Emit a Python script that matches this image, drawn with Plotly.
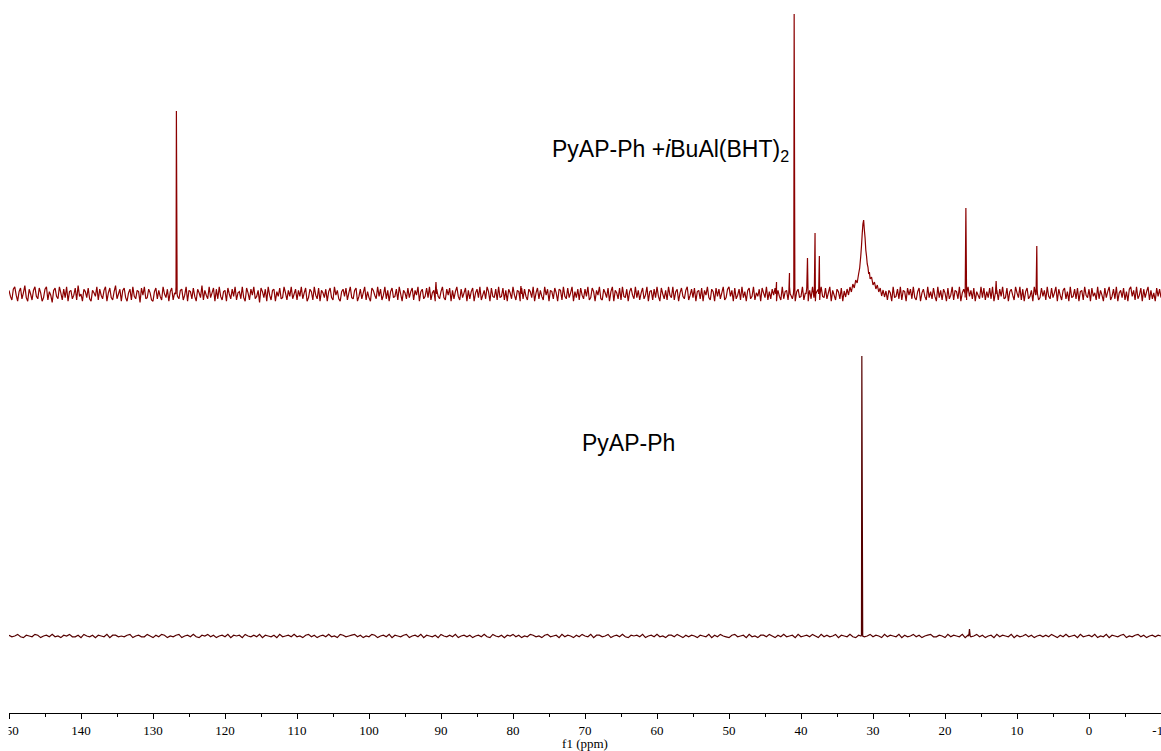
import plotly.graph_objects as go

# ---------------- data ----------------
# chemical shift grid (ppm) for the noise samples
top_start, top_step = 150.0, 0.2
bot_start, bot_step = 150.0, 0.4

# top spectrum: PyAP-Ph + iBuAl(BHT)2 -- baseline noise (intensity units)
top_noise = [
    3,-2,-5,4,6,-1,-6,2,5,-4,1,7,-3,-6,4,0,-5,3,6,-2,
    -4,5,1,-6,-3,4,6,-5,2,-1,-7,3,5,-2,-4,6,1,-5,4,-3,
    6,-6,2,3,-4,-1,5,-5,7,-2,0,-6,4,2,-3,5,-4,-6,3,1,
    -2,6,-5,4,-1,-4,3,6,-6,1,5,-3,-5,2,7,-4,0,4,-6,3,
    5,-3,-6,1,4,-5,6,-2,-4,3,2,-7,5,-1,6,-4,-3,4,1,-5,
    -6,2,5,-4,3,-2,-5,6,0,-3,4,-6,2,5,-5,1,6,-2,-4,3,
    4,-5,-1,6,-6,3,2,-4,5,-2,-6,4,1,-3,7,-5,3,-1,-4,6,
    -3,1,5,-6,4,-4,6,-2,-5,2,3,-6,5,0,-4,4,-2,6,-5,1,
    2,-4,6,-3,-6,5,1,-5,4,-1,6,-4,-2,3,-7,5,2,-3,4,-6,
    6,-1,-5,3,4,-6,2,-2,5,-4,-3,6,1,-5,3,-2,6,-4,0,4,
    -5,3,-2,6,-4,1,5,-6,-3,4,2,-5,6,-1,-4,5,-6,3,1,-3,
    4,-6,2,5,-3,-5,6,-1,3,-4,-6,2,4,-2,5,-5,1,6,-3,-4,
    3,5,-6,-2,4,-4,1,6,-5,2,-3,-6,5,3,-1,-4,6,-2,4,-5,
    -1,6,-4,3,-6,2,5,-3,-2,4,-5,6,0,-6,3,1,-4,5,-3,2,
    5,-5,3,-1,6,-6,2,4,-4,-2,5,-3,6,-5,1,3,-6,4,-2,-4,
    2,6,-3,-5,4,-1,5,-6,3,-4,2,6,-2,-5,4,-3,1,5,-6,3,
    -4,2,5,-6,1,4,-3,6,-5,-1,3,-4,6,2,-6,5,-2,-3,4,-5,
    6,-3,-2,5,-5,3,-6,4,1,-4,6,-1,-5,3,2,-6,5,-4,4,-2,
    -5,4,2,-3,6,-6,1,5,-4,3,-2,-5,6,-1,4,-6,3,2,-4,5,
    1,-6,4,3,-5,6,-2,-4,5,-3,1,6,-6,2,-3,4,-5,5,-1,-4,
    4,-2,6,-5,-3,5,2,-6,3,-1,6,-4,-5,4,1,-3,5,-6,2,6,
    -6,3,1,-4,5,-5,6,-2,-3,4,-6,2,5,-1,-4,6,-3,3,-5,1,
    5,-4,-1,6,-6,2,3,-5,4,-3,6,-2,-6,5,0,-4,3,-5,6,-1,
    -3,6,-5,2,4,-6,1,5,-2,-4,3,6,-5,-1,4,-3,5,-6,2,3,
    -4,5,-6,3,-1,6,-3,-5,4,2,-6,5,-2,4,-4,1,6,-5,-3,4,
    6,-2,3,-6,5,-4,-1,4,-5,6,-3,2,-6,3,5,-4,-2,6,-5,1,
    -2,4,-6,5,1,-3,6,-5,2,-4,4,-1,5,-6,3,-2,-5,6,-4,2,
    3,-5,6,-1,-4,5,-6,2,4,-3,-2,6,-5,1,5,-6,3,-4,6,-3,
    -6,2,4,-5,6,-2,-3,5,-4,1,6,-6,3,-1,-5,4,2,-4,5,-6,
    4,1,-5,6,-3,-4,5,-2,3,-6,6,-1,-4,5,-5,2,4,-3,-6,5,
    -1,-5,6,-4,3,2,-6,4,-2,5,-5,3,1,-6,6,-3,-2,4,-4,6,
    -5,3,2,-6,5,-1,4,-4,6,-3,-5,2,5,-6,1,4,-2,-5,6,-3,
    2,-4,5,-2,-6,6,-3,3,-5,4,1,-6,5,-4,-1,6,-5,3,2,-4,
    6,-6,1,4,-3,-5,6,-2,3,-4,5,-6,2,-1,-4,6,-3,5,-5,2,
    -3,5,-4,6,-6,1,3,-5,4,-2,6,-4,-3,5,-6,2,4,-1,-5,6,
    1,-3,6,-5,4,-6,2,5,-4,-2,3,-6,6,-1,4,-5,-3,5,-2,3,
    -5,6,-2,-4,5,-3,1,6,-6,4,-1,-5,3,5,-4,2,-6,6,-3,-2,
    4,-4,5,-6,2,3,-5,6,-1,-3,4,-6,5,-2,1,-5,6,-4,3,-1,
    -6,5,-3,2,6,-5,-2,4,-4,6,-6,1,3,-3,5,-5,2,-6,4,6,
    -2,3,-5,6,-4,-1,5,-6,4,-3,2,6,-5,3,-4,1,-6,5,-2,4,
    -3,
]
top_noise_gain = 1.2
top_peak_ppm = [126.75, 90.7, 78.9, 43.4, 41.6, 40.95, 39.1, 38.05, 37.45, 17.1, 12.9, 7.25]
top_peak_int = [183, 12, 8, 12, 21, 280, 36, 61, 38, 86, 13, 48]
top_peak_hw  = [0.1, 0.1, 0.1, 0.1, 0.1, 0.1, 0.2, 0.1, 0.1, 0.1, 0.1, 0.1]
# broad resonance near 31 ppm
hump_ppm = [34.0, 33.8, 33.6, 33.4, 33.2, 33.0, 32.8, 32.6, 32.4, 32.2, 32.0, 31.85,
            31.7, 31.6, 31.5, 31.4, 31.3, 31.2, 31.1, 31.0, 30.9, 30.8, 30.7, 30.6,
            30.5, 30.4, 30.2, 30.0, 29.8, 29.6, 29.4, 29.2, 29.0, 28.8, 28.6, 28.4, 28.2]
hump_int = [3, -3, 5, -1, 7, 2, 10, 6, 14, 11, 20, 26,
            38, 48, 60, 70, 74, 64, 56, 44, 38, 30, 27, 20,
            22, 15, 17, 9, 12, 5, 9, 2, 6, -2, 4, -3, 3]

# bottom spectrum: PyAP-Ph -- baseline noise
bot_noise = [
    1,-1,0,2,-1,-2,1,0,-1,2,1,-2,0,1,-1,2,-1,0,-2,1,
    0,2,-1,-1,1,-2,2,0,-1,1,-2,1,0,-1,2,-2,1,1,-1,0,
    -1,1,2,-2,0,1,-1,-1,2,0,-2,1,-1,2,1,-2,0,-1,1,2,
    -2,0,1,-1,2,-1,-2,1,0,2,-1,1,-2,0,1,-1,2,-2,1,0,
    1,-2,2,0,-1,1,-1,2,-2,1,0,-1,1,-2,2,-1,0,1,-1,2,
    -1,0,-2,1,2,-1,1,-2,0,1,-1,2,-1,0,-2,2,1,-1,0,1,
    2,-1,1,-2,0,-1,2,1,-2,0,1,-1,2,-2,1,0,-1,1,2,-2,
    0,1,-1,2,-2,1,0,-1,1,-2,2,0,-1,1,-1,2,-2,0,1,-1,
    1,-2,0,1,-1,2,-1,-2,2,0,-1,1,-2,1,0,2,-1,1,-2,0,
    -1,2,1,-1,0,-2,1,2,-1,0,1,-2,2,-1,1,0,-2,1,-1,2,
    0,-1,2,-2,1,1,-1,0,2,-2,0,1,-1,2,-1,-2,1,0,1,-1,
    2,-2,0,1,-1,2,-1,0,-2,1,1,-1,2,0,-2,1,-1,1,0,-2,
    1,0,-1,2,-2,1,-1,2,0,-1,-2,1,2,-1,0,1,-2,2,-1,0,
    -2,1,1,-1,2,0,-2,1,-1,2,-1,0,1,-2,2,-1,0,1,-1,2,
    0,-2,2,-1,1,-1,0,2,-2,1,0,-1,2,-1,-2,1,1,-1,0,2,
    -1,1,0,-2,2,-1,1,0,-1,2,-2,1,-1,0,2,-1,1,-2,0,1,
    2,-1,-1,1,0,-2,2,-1,1,0,-1,2,-2,1,-1,0,2,-1,1,-2,
    0,1,-2,2,-1,1,0,-1,2,-2,1,-1,0,2,-1,1,-2,0,1,-1,
    1,-1,2,0,-2,1,-1,2,-1,0,1,-2,2,-1,0,1,-1,2,-2,0,
    -1,2,-2,1,0,-1,1,2,-2,0,-1,1,2,-1,1,-2,0,1,-1,1,
    0,
]
bot_noise_gain = 0.8
bot_peak_ppm = [31.55, 16.6]
bot_peak_int = [280, 7]
bot_peak_hw  = [0.12, 0.1]

labels = ["PyAP-Ph +<i>i</i>BuAl(BHT)<sub>2</sub>", "PyAP-Ph"]
tick_vals = [150, 140, 130, 120, 110, 100, 90, 80, 70, 60, 50, 40, 30, 20, 10, 0, -10]

# vertical stacking offsets of the two spectra
top_offset = 419
bot_offset = 77


def build(start, step, noise, gain, pk_ppm, pk_int, pk_hw, hx=None, hy=None, hole=None):
    pts = []
    for i, v in enumerate(noise):
        x = start - step * i
        if hole and hole[1] <= x <= hole[0]:
            continue
        pts.append((x, v * gain))
    for p, h, w in zip(pk_ppm, pk_int, pk_hw):
        pts += [(p + w, 0), (p, h), (p - w, 0)]
    if hx:
        pts += list(zip(hx, hy))
    pts.sort(key=lambda t: -t[0])
    return [t[0] for t in pts], [t[1] for t in pts]


tx, ty = build(top_start, top_step, top_noise, top_noise_gain, top_peak_ppm, top_peak_int,
               top_peak_hw, hump_ppm, hump_int, hole=(34.1, 28.1))
bx, by = build(bot_start, bot_step, bot_noise, bot_noise_gain, bot_peak_ppm, bot_peak_int,
               bot_peak_hw)

fig = go.Figure()
fig.add_trace(go.Scatter(x=tx, y=[v + top_offset for v in ty], mode="lines",
                         line=dict(color="rgb(139,0,0)", width=1.2, simplify=False),
                         hoverinfo="skip"))
fig.add_trace(go.Scatter(x=bx, y=[v + bot_offset for v in by], mode="lines",
                         line=dict(color="rgb(85,0,0)", width=1.2, simplify=False),
                         hoverinfo="skip"))

fig.add_annotation(text=labels[0], xref="paper", yref="paper", x=0.574, y=0.812,
                   showarrow=False, font=dict(family="Liberation Sans, Arial", size=23, color="black"))
fig.add_annotation(text=labels[1], xref="paper", yref="paper", x=0.538, y=0.379,
                   showarrow=False, font=dict(family="Liberation Sans, Arial", size=23, color="black"))

# the reference clips tick labels at the left edge of the plotting area
fig.add_shape(type="rect", xref="paper", yref="paper", x0=-0.01, x1=-0.0004,
              y0=-0.06, y1=-0.008, fillcolor="white", line=dict(width=0), layer="above")

fig.update_layout(
    width=1161, height=751,
    margin=dict(l=9, r=0, t=0, b=38),
    paper_bgcolor="white", plot_bgcolor="white",
    showlegend=False,
    xaxis=dict(
        range=[150, -10], tickvals=tick_vals, ticktext=[str(v) for v in tick_vals],
        showgrid=False, zeroline=False, showline=True, linecolor="black", linewidth=1,
        ticks="outside", ticklen=5, tickcolor="black", tickwidth=1,
        minor=dict(dtick=5, ticks="outside", ticklen=3, tickcolor="black", showgrid=False),
        tickfont=dict(family="Liberation Serif, Times New Roman", size=13, color="black"),
        ticklabeloverflow="allow",
        title=dict(text="f1 (ppm)", standoff=0,
                   font=dict(family="Liberation Serif, Times New Roman", size=13, color="black")),
        automargin=False,
    ),
    yaxis=dict(range=[0, 713], visible=False, fixedrange=True),
)

fig.write_html("out.html")
